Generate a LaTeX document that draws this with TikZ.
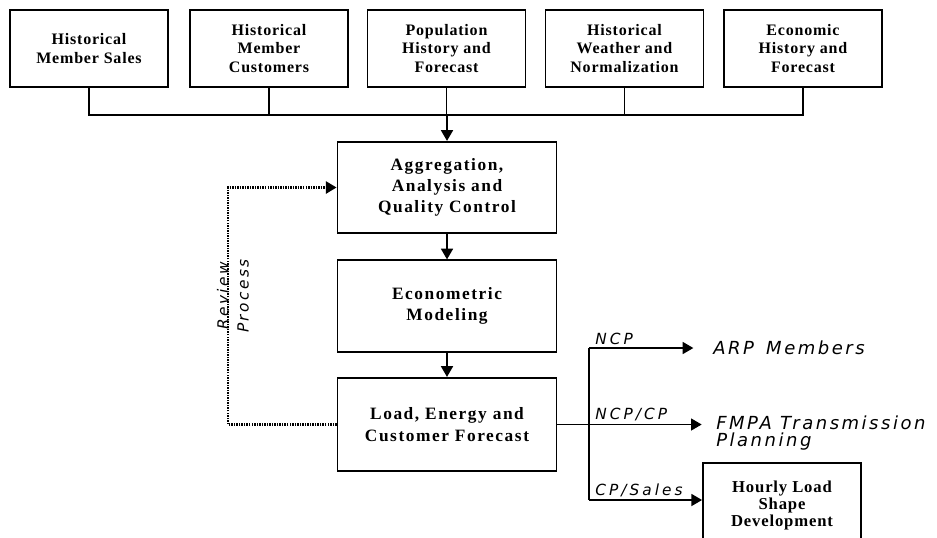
\documentclass[tikz,border=0pt]{standalone}
\usepackage{fontspec}
\usepackage{tikz}
\usetikzlibrary{arrows.meta}
\setmainfont{Liberation Serif}
\newfontfamily\srcfont[LetterSpace=5]{Liberation Serif}
\newfontfamily\procfont[LetterSpace=9]{Liberation Serif}
\newfontfamily\labfont[LetterSpace=20]{DejaVu Sans}
\newfontfamily\outfont[LetterSpace=14]{DejaVu Sans}
\newfontfamily\revfont[LetterSpace=16]{DejaVu Sans}

\tikzset{
  srcbox/.style={draw, line width=1.4pt, align=center, inner sep=0pt,
    minimum width=118.5pt, minimum height=57.75pt,
    font=\srcfont\bfseries\fontsize{12}{14}\selectfont},
  procbox/.style={draw, line width=1.4pt, align=center, inner sep=0pt,
    minimum width=164.25pt, minimum height=68.5pt,
    font=\procfont\bfseries\fontsize{13}{16}\selectfont},
  link/.style={line width=1.1pt},
  arr/.style={-{Triangle[length=8pt,width=9pt]}, line width=1.1pt},
  review/.style={-{Triangle[length=8pt,width=9pt]}, dash pattern=on 1.1pt off 0.8pt, line width=1.8pt},
  lab/.style={inner sep=0.75pt, font=\labfont\itshape\fontsize{11.5}{13}\selectfont},
  outlab/.style={inner sep=0.75pt, align=left, font=\outfont\itshape\fontsize{13.5}{12.5}\selectfont}
}

\begin{document}
\begin{tikzpicture}[x=0.75pt,y=0.75pt,yscale=-1,xscale=1]
\useasboundingbox (0,0) rectangle (937,537);

% Source boxes
\node[srcbox] (sales) at (89,48.5) {Historical\\Member Sales};
\node[srcbox] (cust) at (269,48.5) {Historical\\Member\\Customers};
\node[srcbox] (pop) at (446.5,48.5) {Population\\History and\\Forecast};
\node[srcbox] (weather) at (624.5,48.5) {Historical\\Weather and\\Normalization};
\node[srcbox] (econ) at (803,48.5) {Economic\\History and\\Forecast};

% Process boxes
\node[procbox] (agg) at (447,187.5) {Aggregation,\\Analysis and\\Quality Control};
\node[procbox] (model) at (447,306) {Econometric\\Modeling};
\node[procbox, minimum height=70pt] (load) at (447,424.5) {Load, Energy and\\Customer Forecast};
\node[procbox, minimum width=118.5pt, minimum height=63pt,
  font=\srcfont\bfseries\fontsize{12.5}{12.75}\selectfont] (hourly) at (782,505) {Hourly Load\\Shape\\Development};

% Collecting bus
\coordinate (bus) at (447,115);
\draw[link] (sales.south) |- (bus) -| (econ.south);
\draw[link] (cust.south) -- (cust.south |- bus);
\draw[link] (pop.south) -- (pop.south |- bus);
\draw[link] (weather.south) -- (weather.south |- bus);
\draw[arr] (bus) -- (agg.north);
\draw[arr] (agg.south) -- (model.north);
\draw[arr] (model.south) -- (load.north);

% Review loop
\coordinate (rv) at (228,300);
\draw[review] (load.west) -| (rv) |- (agg.west);
\node[rotate=90, align=center, inner sep=0.75pt,
  font=\revfont\itshape\fontsize{11.5}{15}\selectfont] (revlab) at (233,296) {Review\\Process};

% Outputs
\node[outlab, anchor=west] (arp) at (712,348) {ARP\hspace{3pt} Members};
\node[outlab, anchor=west] (fmpa) at (715,433) {FMPA Transmission\\Planning};
\coordinate (ncp) at (589,348);
\coordinate (cps) at (589,500);
\draw[link] (ncp) -- (cps);
\draw[arr, shorten >=14pt] (ncp) -- (arp.west);
\draw[arr, shorten >=10pt] (load.east) -- (load.east -| fmpa.west);
\draw[arr] (cps) -- (cps -| hourly.west);

% Text Node
\node[lab, anchor=south west] (ncplab) at (594,346) {NCP};
% Text Node
\node[lab, anchor=south west] (ncpcplab) at (594,422) {NCP/CP};
% Text Node
\node[lab, anchor=south west] (cpslab) at (594,498) {CP/Sales};

\end{tikzpicture}
\end{document}
